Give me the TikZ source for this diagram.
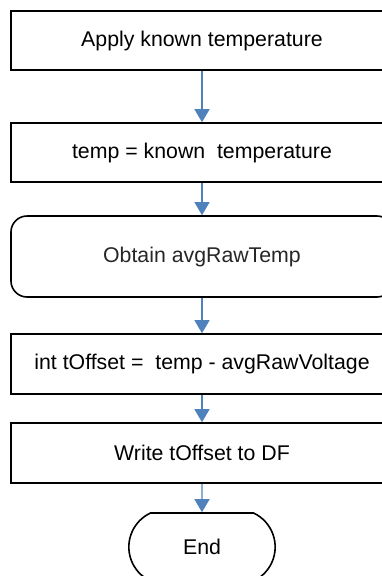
\documentclass[tikz,border=0pt]{standalone}
\usepackage{fontspec}
\setmainfont{Liberation Sans}
\usetikzlibrary{arrows.meta, shapes.misc}
\definecolor{arrowblue}{RGB}{79,129,189}
\tikzstyle{process} = [rectangle, minimum width=382pt, minimum height=59pt, text centered, draw=black, line width=1.6pt]
\tikzstyle{subproc} = [rectangle, rounded corners=16pt, minimum width=382pt, minimum height=81pt, text centered, draw=black, line width=1.6pt]
\tikzstyle{startstop} = [rounded rectangle, rounded rectangle arc length=130, minimum width=153pt, minimum height=68pt, text centered, draw=black, line width=1.6pt]
\tikzstyle{arrow} = [line width=1.3pt, draw=arrowblue, -{Triangle[width=15pt,length=13pt]}]

\begin{document}
\begin{tikzpicture}[node distance=112pt]
%background
\useasboundingbox (0pt,0pt) rectangle (382pt,-576pt);
%nodes
\node[font=\fontsize{21.3pt}{24pt}\selectfont] (apply) [process] at (202pt,-40.5pt) {Apply known temperature};
\node[font=\fontsize{21.3pt}{24pt}\selectfont] (settemp) [process, below of=apply] {temp = known\ \ temperature};
\node[font=\fontsize{21.3pt}{24pt}\selectfont, text=black!85] (obtain) [subproc, below of=settemp, yshift=8pt] {Obtain avgRawTemp};
\node[font=\fontsize{21.3pt}{24pt}\selectfont] (offset) [process, minimum height=60pt, below of=obtain, yshift=4.5pt] {int tOffset =\ \ temp - avgRawVoltage};
\node[font=\fontsize{21.3pt}{24pt}\selectfont] (write) [process, minimum height=60pt, below of=offset, yshift=23pt] {Write tOffset to DF};
%Fim
\node[font=\fontsize{21.3pt}{24pt}\selectfont] (stop) [startstop, below of=write, yshift=18pt] {End};

%arrows
\draw [arrow] (apply) -- (settemp);
\draw [arrow] (settemp) -- (obtain);
\draw [arrow] (obtain) -- (offset);
\draw [arrow] (offset) -- (write);
\draw [arrow] (write) -- (stop);
\end{tikzpicture}
\end{document}
